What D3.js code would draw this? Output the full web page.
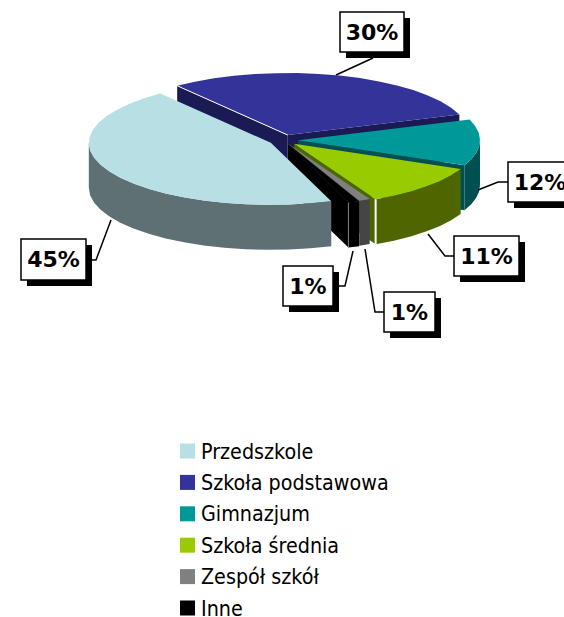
<!DOCTYPE html>
<html>
<head>
<meta charset="utf-8">
<script src="https://cdn.jsdelivr.net/npm/d3@7"></script>
<style>
  html, body { margin: 0; padding: 0; background: #fff; }
  svg { display: block; }
</style>
</head>
<body>
<div id="chart"></div>
<script>
// data
const categories = ["Przedszkole", "Szkoła podstawowa", "Gimnazjum", "Szkoła średnia", "Zespół szkół", "Inne"]
const shares = [45, 30, 12, 11, 1, 1]
const shareLabels = ["45%", "30%", "12%", "11%", "1%", "1%"]

// colours, same order as categories
const topColors = ["#b8e0e4", "#333399", "#009999", "#99cc00", "#808080", "#000000"]
const wallColors = ["#5e7073", "#1a1a55", "#005052", "#4f6600", "#454545", "#000000"]

// layout
const width = 564
const height = 617
const rad = Math.PI / 180
const cx = 284
const cy = 140
const rx = 182
const ry = 62
const depth = 45
const first_angle = 160.6
const explode = [15, 13, 14, 14, 10, 11]
const draw_order = [1, 2, 3, 4, 5, 0]

// label boxes [x, y, w, h] and leader lines, same order as categories
const label_boxes = [[21, 239, 65, 41], [340, 12, 64, 40], [508, 162, 64, 40], [454, 236, 65, 40], [384, 292, 51, 40], [283, 266, 50, 40]]
const leaders = [
  [[92, 260], [96, 260], [111, 220]],
  [[373, 58], [336, 75]],
  [[508, 182], [498, 182], [478, 190]],
  [[454, 256], [445, 256], [428, 234]],
  [[384, 312], [375, 312], [365, 249]],
  [[339, 286], [345, 286], [353, 251]]
]

const svg = d3.select("#chart").append("svg")
  .attr("width", width)
  .attr("height", height)
  .attr("viewBox", [0, 0, width, height])

const pie = d3.pie().sort(null)
  .startAngle(first_angle * rad)
  .endAngle((first_angle + 360) * rad)
const arcs = pie(shares)

const xy = d3.line()

// apex of an exploded slice
function apex(d, i) {
  let mid = (d.startAngle + d.endAngle) / 2
  return [cx + explode[i] * Math.sin(mid), cy - explode[i] * 0.4 * Math.cos(mid)]
}

function rim(c, a) {
  return [c[0] + rx * Math.sin(a), c[1] - ry * Math.cos(a)]
}

function down(p) {
  return [p[0], p[1] + depth]
}

// rim points from a0 to a1, coarse steps like the original renderer
function rimPoints(c, a0, a1) {
  let n = Math.max(1, Math.ceil((a1 - a0) / (7 * rad)))
  return d3.range(n + 1).map(k => rim(c, a0 + (a1 - a0) * k / n))
}

draw_order.forEach(i => {
  let d = arcs[i]
  let c = apex(d, i)
  let g = svg.append("g").attr("class", "slice")

  // side faces that look at the viewer
  if (Math.sin(d.startAngle) < 0) {
    let p = rim(c, d.startAngle)
    g.append("path").attr("fill", wallColors[i]).attr("d", xy([c, p, down(p), down(c)]) + "Z")
  }
  if (Math.sin(d.endAngle) > 0) {
    let p = rim(c, d.endAngle)
    g.append("path").attr("fill", wallColors[i]).attr("d", xy([c, p, down(p), down(c)]) + "Z")
  }

  // outer wall, only the front part of the rim
  let a0 = d.startAngle, a1 = d.endAngle
  for (let turn of [0, 2]) {
    let lo = Math.max(a0, (90 + 180 * turn) * rad)
    let hi = Math.min(a1, (270 + 180 * turn) * rad)
    if (hi > lo) {
      let top = rimPoints(c, lo, hi)
      g.append("path").attr("fill", wallColors[i])
        .attr("d", xy(top.concat(top.map(down).reverse())) + "Z")
    }
  }

  // top face
  g.append("path").attr("fill", topColors[i])
    .attr("d", xy([c].concat(rimPoints(c, a0, a1))) + "Z")
})

// thin highlights along some slice edges
let blue_c = apex(arcs[1], 1)
svg.append("path").attr("fill", "none").attr("stroke", "#fff").attr("stroke-width", 1)
  .attr("d", xy([blue_c, rim(blue_c, arcs[1].startAngle)]))
let green_c = apex(arcs[3], 3)
let green_end = rim(green_c, arcs[3].endAngle)
svg.append("path").attr("fill", "none").attr("stroke", "#fff").attr("stroke-width", 2)
  .attr("d", xy([green_end, down(green_end)]))
let inne_c = apex(arcs[5], 5)
let inne_end = rim(inne_c, arcs[5].endAngle)
svg.append("path").attr("fill", "none").attr("stroke", "#808080").attr("stroke-width", 1)
  .attr("d", xy([inne_end, down(inne_end)]))

// leader lines
svg.append("g").selectAll("path")
  .data(leaders)
  .join("path")
  .attr("fill", "none")
  .attr("stroke", "#000")
  .attr("stroke-width", 1.5)
  .attr("d", d => xy(d))

// data labels
let labels = svg.append("g").selectAll("g")
  .data(shareLabels)
  .join("g")

labels.append("rect")
  .attr("x", (d, i) => label_boxes[i][0] + 6)
  .attr("y", (d, i) => label_boxes[i][1] + 6)
  .attr("width", (d, i) => label_boxes[i][2])
  .attr("height", (d, i) => label_boxes[i][3])
  .attr("fill", "#000")

labels.append("rect")
  .attr("x", (d, i) => label_boxes[i][0])
  .attr("y", (d, i) => label_boxes[i][1])
  .attr("width", (d, i) => label_boxes[i][2])
  .attr("height", (d, i) => label_boxes[i][3])
  .attr("fill", "#fff")
  .attr("stroke", "#000")
  .attr("stroke-width", 1.5)

labels.append("text")
  .attr("x", (d, i) => label_boxes[i][0] + label_boxes[i][2] / 2)
  .attr("y", (d, i) => label_boxes[i][1] + label_boxes[i][3] / 2)
  .attr("dy", "0.36em")
  .style("text-anchor", "middle")
  .attr("font-family", "DejaVu Sans").attr("font-weight", "700").attr("font-size", 22)
  .text(d => d)

// legend
let legend_y = d3.scalePoint().domain(categories).range([451, 608])

let legend = svg.append("g").selectAll("g")
  .data(categories)
  .join("g")
  .attr("transform", d => `translate(180,${legend_y(d)})`)

legend.append("rect")
  .attr("y", -7.5)
  .attr("width", 15)
  .attr("height", 15)
  .attr("fill", (d, i) => topColors[i])

legend.append("text")
  .attr("x", 21)
  .attr("dy", "0.36em")
  .attr("font-family", "DejaVu Sans").attr("font-stretch", "condensed").attr("font-size", 21.3)
  .attr("fill", "#000")
  .text(d => d)
</script>
</body>
</html>
